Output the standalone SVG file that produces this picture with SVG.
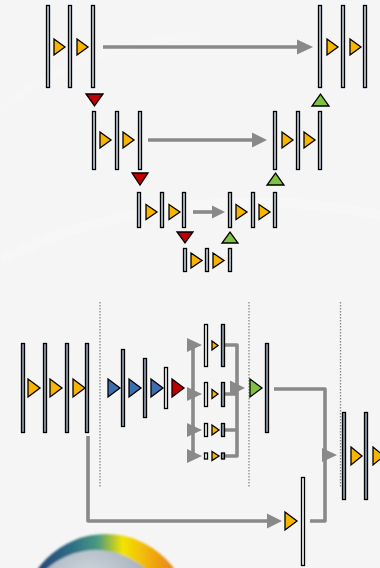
<svg xmlns="http://www.w3.org/2000/svg" width="380" height="568" viewBox="0 0 380 568">
  <defs>
    <style>
      .bar{fill:#bac7d4;stroke:#000;stroke-width:1.3}
      .barD{fill:#8e9cac;stroke:#000;stroke-width:1.3}
      .barW{fill:#f4f6f8;stroke:#000;stroke-width:1.3}
      .tri{stroke:#000;stroke-width:1.3;stroke-linejoin:miter}
      .y{fill:#f7b500}
      .r{fill:#c00000}
      .g{fill:#7fc241}
      .b{fill:#3d6db2}
      .conn{fill:none;stroke:#898989;stroke-width:3.6;stroke-linejoin:round;stroke-linecap:butt}
      .head{fill:#898989}
      .dot{fill:none;stroke:#8a8a8a;stroke-width:1.3;stroke-dasharray:1.4 1.6}
    </style>
    <linearGradient id="ring" x1="0" y1="0" x2="1" y2="0">
      <stop offset="0" stop-color="#22336f"/>
      <stop offset="0.3" stop-color="#2f6f86"/>
      <stop offset="0.45" stop-color="#4a9a80"/>
      <stop offset="0.6" stop-color="#f4e400"/>
      <stop offset="0.8" stop-color="#f0a010"/>
      <stop offset="1" stop-color="#e06a20"/>
    </linearGradient>
    <radialGradient id="orb" cx="0.45" cy="0.25" r="0.7">
      <stop offset="0" stop-color="#d6dce2"/>
      <stop offset="0.6" stop-color="#a4b0bc"/>
      <stop offset="1" stop-color="#6f7d8c"/>
    </radialGradient>
    <filter id="soft" x="-10%" y="-10%" width="120%" height="120%">
      <feGaussianBlur stdDeviation="1.2"/>
    </filter>
  </defs>

  <!-- backdrop -->
  <rect width="380" height="568" fill="#f5f5f5"/>
  <path d="M0 260 C 120 200 260 190 380 215" fill="none" stroke="#f9f9f9" stroke-width="10" opacity="0.6"/>
  <path d="M0 110 C 60 60 130 40 200 35" fill="none" stroke="#f8f8f8" stroke-width="8" opacity="0.5"/>

  <!-- emblem in the lower-left corner -->
  <g id="emblem" filter="url(#soft)">
    <circle cx="106" cy="618" r="84" fill="url(#ring)"/>
    <circle cx="96" cy="624" r="74" fill="url(#orb)"/>
  </g>

  <!-- stage separators -->
  <g id="separators">
    <line class="dot" x1="100" y1="302" x2="100" y2="487"/>
    <line class="dot" x1="249" y1="302" x2="249" y2="487"/>
    <line class="dot" x1="340.5" y1="302" x2="340.5" y2="487"/>
  </g>

  <!-- connectors -->
  <g id="connectors">
    <!-- U-shaped skip links -->
    <line class="conn" x1="103" y1="47" x2="299" y2="47"/>
    <polygon class="head" points="297,39.5 313,47 297,54.5"/>
    <line class="conn" x1="148" y1="140" x2="254" y2="140"/>
    <polygon class="head" points="252,132.5 267,140 252,147.5"/>
    <line class="conn" x1="193" y1="212" x2="214" y2="212"/>
    <polygon class="head" points="212,205.5 225,212 212,218.5"/>

    <!-- fan-out into parallel branches -->
    <path class="conn" d="M193 345 V456"/>
    <polygon class="head" points="187,338 202,345 187,352"/>
    <polygon class="head" points="187,387 202,394 187,401"/>
    <polygon class="head" points="187,423 202,430 187,437"/>
    <polygon class="head" points="187,449 202,456 187,463"/>

    <!-- fan-in from branches -->
    <path class="conn" d="M225 345 H237 V456 H225 M225 394 H237 M225 430 H237"/>
    <polygon class="head" points="230,380.5 245,388 230,395.5"/>

    <!-- merge toward the decoder -->
    <path class="conn" d="M274 389 H325 V521 H310"/>
    <polygon class="head" points="322,448 337,455 322,462"/>

    <!-- low-level shortcut -->
    <path class="conn" d="M88 436 V521 H269"/>
    <polygon class="head" points="267,513.5 282,521 267,528.5"/>
  </g>

  <!-- encoder / decoder blocks of the upper network -->
  <g id="enc1">
    <rect class="bar" x="46.5" y="5.5" width="3" height="82"/>
    <rect class="bar" x="68.5" y="5.5" width="3" height="82"/>
    <rect class="bar" x="91.5" y="5.5" width="3" height="82"/>
    <polygon class="tri y" points="54,39 65,47 54,55"/>
    <polygon class="tri y" points="77,39 88,47 77,55"/>
  </g>
  <g id="down1"><polygon class="tri r" points="86,94 103,94 94.5,106"/></g>

  <g id="enc2">
    <rect class="bar" x="92.5" y="111.5" width="3" height="58"/>
    <rect class="bar" x="115.5" y="111.5" width="3" height="58"/>
    <rect class="bar" x="138.5" y="111.5" width="3" height="58"/>
    <polygon class="tri y" points="100,132 111,140 100,148"/>
    <polygon class="tri y" points="123,132 134,140 123,148"/>
  </g>
  <g id="down2"><polygon class="tri r" points="132,173 148,173 140,185"/></g>

  <g id="enc3">
    <rect class="bar" x="137.5" y="192.5" width="3" height="35"/>
    <rect class="bar" x="160.5" y="192.5" width="3" height="35"/>
    <rect class="bar" x="182.5" y="192.5" width="3" height="35"/>
    <polygon class="tri y" points="146,204.5 157,212 146,219.5"/>
    <polygon class="tri y" points="169,204.5 180,212 169,219.5"/>
  </g>
  <g id="down3"><polygon class="tri r" points="177,232 193,232 185,243"/></g>

  <g id="bottleneck">
    <rect class="bar" x="183.5" y="248.5" width="3" height="23"/>
    <rect class="bar" x="205.5" y="248.5" width="3" height="23"/>
    <rect class="bar" x="228.5" y="248.5" width="3" height="23"/>
    <polygon class="tri y" points="191,253 202,260.5 191,268"/>
    <polygon class="tri y" points="213,253 224,260.5 213,268"/>
  </g>

  <g id="up3"><polygon class="tri g" points="222,243 238,243 230,232"/></g>
  <g id="dec3">
    <rect class="bar" x="228.5" y="192.5" width="3" height="35"/>
    <rect class="bar" x="251.5" y="192.5" width="3" height="35"/>
    <rect class="bar" x="273.5" y="192.5" width="3" height="35"/>
    <polygon class="tri y" points="236,204.5 247,212 236,219.5"/>
    <polygon class="tri y" points="259,204.5 270,212 259,219.5"/>
  </g>

  <g id="up2"><polygon class="tri g" points="267,185 284,185 275.5,173"/></g>
  <g id="dec2">
    <rect class="bar" x="273.5" y="111.5" width="3" height="58"/>
    <rect class="bar" x="296.5" y="111.5" width="3" height="58"/>
    <rect class="bar" x="318.5" y="111.5" width="3" height="58"/>
    <polygon class="tri y" points="282,132 293,140 282,148"/>
    <polygon class="tri y" points="304,132 315,140 304,148"/>
  </g>

  <g id="up1"><polygon class="tri g" points="312,106 329,106 320.5,94"/></g>
  <g id="dec1">
    <rect class="bar" x="318.5" y="5.5" width="3" height="82"/>
    <rect class="bar" x="341.5" y="5.5" width="3" height="82"/>
    <rect class="bar" x="363.5" y="5.5" width="3" height="82"/>
    <polygon class="tri y" points="327,39 338,47 327,55"/>
    <polygon class="tri y" points="350,39 361,47 350,55"/>
  </g>

  <!-- lower network -->
  <g id="backbone">
    <rect class="barD" x="21.5" y="343.5" width="3" height="89"/>
    <rect class="barD" x="43.5" y="343.5" width="3" height="89"/>
    <rect class="barD" x="65.5" y="343.5" width="3" height="89"/>
    <rect class="barD" x="85.5" y="343.5" width="3" height="89"/>
    <polygon class="tri y" points="28,379 40,388 28,397"/>
    <polygon class="tri y" points="50,379 62,388 50,397"/>
    <polygon class="tri y" points="73,379 85,388 73,397"/>
  </g>

  <g id="reduce">
    <polygon class="tri b" points="108,379 120,388 108,397"/>
    <rect class="barD" x="121.5" y="349.5" width="3" height="77"/>
    <polygon class="tri b" points="129,379 141,388 129,397"/>
    <rect class="barD" x="143.5" y="358.5" width="3" height="59"/>
    <polygon class="tri b" points="151,379 163,388 151,397"/>
    <rect class="barW" x="164.5" y="367.5" width="3" height="41"/>
    <polygon class="tri r" points="172,379 184,388 172,397"/>
  </g>

  <g id="branch1">
    <rect class="barW" x="204.5" y="324.5" width="3" height="42"/>
    <polygon class="tri y" points="212,341 218,345.5 212,350"/>
    <rect class="barD" x="221.5" y="324.5" width="3" height="42"/>
  </g>
  <g id="branch2">
    <rect class="barW" x="204.5" y="382.5" width="3" height="24"/>
    <polygon class="tri y" points="212,389.5 218,394 212,398.5"/>
    <rect class="barD" x="221.5" y="382.5" width="3" height="24"/>
  </g>
  <g id="branch3">
    <rect class="barW" x="204.5" y="423.5" width="3" height="13"/>
    <polygon class="tri y" points="212,425 219,430 212,435"/>
    <rect class="barD" x="221.5" y="423.5" width="3" height="13"/>
  </g>
  <g id="branch4">
    <rect class="barW" x="204.5" y="453" width="3" height="6"/>
    <polygon class="tri y" points="212,451.5 219,456 212,460.5"/>
    <rect class="barD" x="221.5" y="453" width="3" height="6"/>
  </g>

  <g id="fuse">
    <polygon class="tri g" points="250,379 262,388 250,397"/>
    <rect class="barD" x="265.5" y="343.5" width="3" height="89"/>
  </g>

  <g id="lowproj">
    <polygon class="tri y" points="285,512 297,521 285,530"/>
    <rect class="barW" x="301.5" y="477.5" width="3" height="88"/>
  </g>

  <g id="head">
    <rect class="barD" x="342.5" y="412.5" width="3" height="87"/>
    <polygon class="tri y" points="351,447 362,456 351,465"/>
    <rect class="barD" x="364.5" y="412.5" width="3" height="87"/>
    <polygon class="tri y" points="373,447 384,456 373,465"/>
  </g>
</svg>
